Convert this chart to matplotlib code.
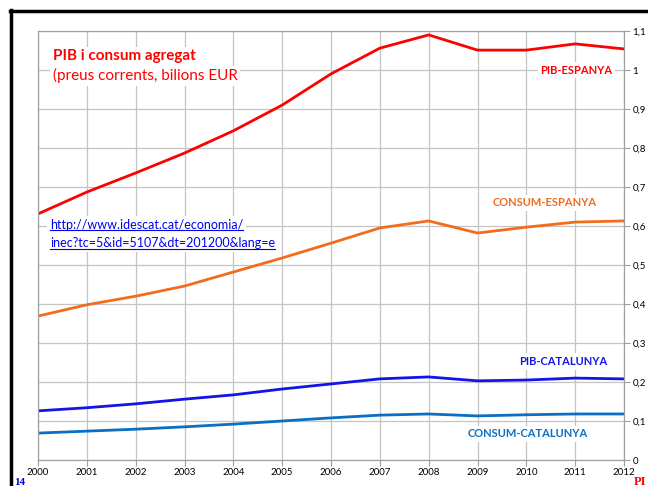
import matplotlib.pyplot as plt
from matplotlib.lines import Line2D

years = list(range(2000, 2013))
pib_esp = [0.631, 0.687, 0.736, 0.787, 0.844, 0.910, 0.990, 1.056, 1.090, 1.051, 1.051, 1.067, 1.054]
cons_esp = [0.369, 0.398, 0.420, 0.446, 0.482, 0.518, 0.556, 0.595, 0.613, 0.582, 0.597, 0.610, 0.613]
pib_cat = [0.126, 0.134, 0.144, 0.156, 0.167, 0.182, 0.195, 0.208, 0.213, 0.203, 0.205, 0.210, 0.208]
cons_cat = [0.069, 0.074, 0.079, 0.085, 0.092, 0.100, 0.108, 0.115, 0.118, 0.113, 0.116, 0.118, 0.118]
yticks = [0, 0.1, 0.2, 0.3, 0.4, 0.5, 0.6, 0.7, 0.8, 0.9, 1.0, 1.1]
ylabels = ['0', '0,1', '0,2', '0,3', '0,4', '0,5', '0,6', '0,7', '0,8', '0,9', '1', '1,1']
link_lines = ['http://www.idescat.cat/economia/', 'inec?tc=5&id=5107&dt=201200&lang=e']

plt.rcParams['font.family'] = ['Lato', 'DejaVu Sans']

fig = plt.figure(figsize=(6.48, 4.86), dpi=100)
ax = fig.add_axes([38/648, 1 - 460/486, (624 - 38)/648, (460 - 31)/486])

ax.plot(years, pib_esp, color='#ff0000', linewidth=2)
ax.plot(years, cons_esp, color='#f26c1c', linewidth=2)
ax.plot(years, pib_cat, color='#1414e6', linewidth=2)
ax.plot(years, cons_cat, color='#0a6fc2', linewidth=2)

ax.set_xlim(2000, 2012)
ax.set_ylim(0, 1.1)
ax.set_xticks(years)
ax.set_xticklabels([str(y) for y in years], fontsize=7)
ax.set_yticks(yticks)
ax.set_yticklabels(ylabels, fontsize=7)
ax.yaxis.tick_right()
ax.tick_params(axis='both', length=4, color='#a0a0a0', pad=2)
ax.grid(True, color='#c4c4c4', linewidth=0.9)
for s in ax.spines.values():
    s.set_color('#a0a0a0')
    s.set_linewidth(0.9)

box = dict(facecolor='white', edgecolor='none', pad=2)
ax.text(2000.3, 1.035, 'PIB i consum agregat', color='#ff0000', fontsize=11,
        fontweight='bold', va='center', bbox=box)
ax.text(2000.3, 0.985, '(preus corrents, bilions EUR', color='#ff0000', fontsize=11,
        va='center', bbox=box)
ax.text(2011.03, 1.0, 'PIB-ESPANYA', color='#ff0000', fontsize=8, fontweight='bold',
        ha='center', va='center', bbox=box)
ax.text(2010.37, 0.659, 'CONSUM-ESPANYA', color='#f26c1c', fontsize=8, fontweight='bold',
        ha='center', va='center', bbox=box)
ax.text(2010.76, 0.252, 'PIB-CATALUNYA', color='#1414e6', fontsize=8, fontweight='bold',
        ha='center', va='center', bbox=box)
ax.text(2010.03, 0.067, 'CONSUM-CATALUNYA', color='#0a6fc2', fontsize=8, fontweight='bold',
        ha='center', va='center', bbox=box)

# link text, two lines, underlined
link_texts = []
for i, line in enumerate(link_lines):
    t = ax.text(2000.25, 0.603 - i * 0.047, line, color='#0000ee', fontsize=9,
                va='center', bbox=box)
    link_texts.append(t)
fig.canvas.draw()
inv = fig.transFigure.inverted()
for t in link_texts:
    bb = t.get_window_extent()
    (x0, y0), (x1, y1) = inv.transform([(bb.x0, bb.y0), (bb.x1, bb.y0)])
    fig.add_artist(Line2D([x0, x1], [y0 + 0.001, y0 + 0.001], color='#0000ee', linewidth=0.8))

# outer slide frame
fig.add_artist(Line2D([11/648, 11/648], [0, 1 - 10/486], color='black', linewidth=2.5))
fig.add_artist(Line2D([10/648, 1], [1 - 11/486, 1 - 11/486], color='black', linewidth=2.5))
fig.text(14/648, 1 - 482/486, '14', color='#0000cc', fontsize=8, fontweight='bold',
         family='Liberation Serif', va='center')
fig.text(634/648, 1 - 482/486, 'PI', color='#ff0000', fontsize=9, fontweight='bold',
         family='Liberation Serif', va='center')

fig.savefig('out.png', dpi=100)
